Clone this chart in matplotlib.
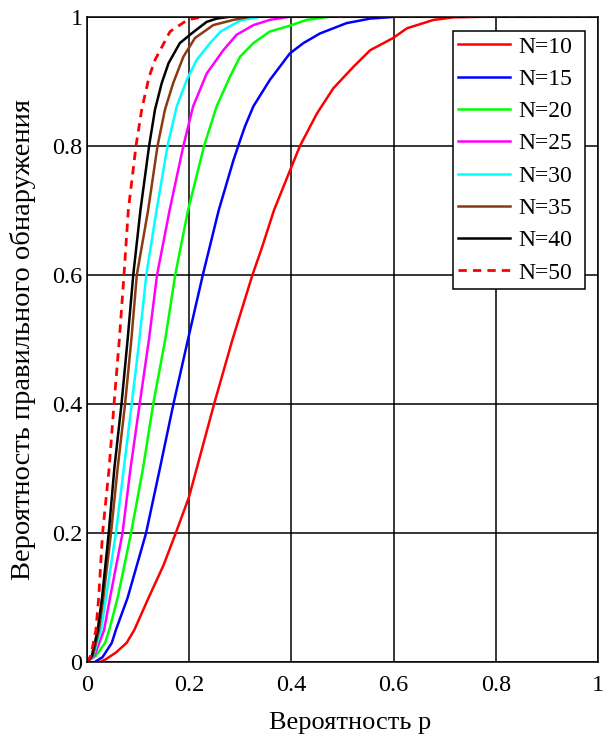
import numpy as np
import matplotlib.pyplot as plt

plt.rcParams['font.family'] = ['Liberation Serif', 'DejaVu Serif']

p_10 = [0.0, 0.025, 0.038, 0.057, 0.078, 0.093, 0.121, 0.15, 0.174, 0.2, 0.215, 0.249,
        0.285, 0.324, 0.342, 0.366, 0.399, 0.417, 0.45, 0.482, 0.521, 0.554, 0.599, 0.626,
        0.678, 0.717, 0.782, 1.0]
P_10 = [0.0, 0.0, 0.005, 0.015, 0.03, 0.05, 0.10, 0.15, 0.20, 0.256, 0.30, 0.40,
        0.50, 0.60, 0.641, 0.70, 0.765, 0.80, 0.85, 0.889, 0.922, 0.948, 0.967, 0.982,
        0.995, 0.999, 1.0, 1.0]

p_15 = [0.0, 0.015, 0.031, 0.049, 0.057, 0.080, 0.116, 0.143, 0.1695, 0.198, 0.227,
        0.258, 0.287, 0.298, 0.3094, 0.3257, 0.358, 0.397, 0.4234, 0.456, 0.508,
        0.554, 0.606, 1.0]
P_15 = [0.0, 0.0, 0.008, 0.03, 0.05, 0.10, 0.20, 0.30, 0.40, 0.50, 0.60,
        0.70, 0.778, 0.804, 0.83, 0.861, 0.902, 0.943, 0.959, 0.974, 0.990,
        0.997, 1.0, 1.0]

p_20 = [0.0, 0.018, 0.036, 0.044, 0.0606, 0.0866, 0.110, 0.130, 0.1535, 0.173, 0.198,
        0.2295, 0.254, 0.280, 0.2997, 0.3257, 0.358, 0.397, 0.430, 0.476, 1.0]
P_20 = [0.0, 0.01, 0.03, 0.05, 0.10, 0.20, 0.30, 0.40, 0.50, 0.60, 0.70,
        0.80, 0.861, 0.907, 0.938, 0.959, 0.977, 0.986, 0.995, 1.0, 1.0]

p_25 = [0.0, 0.015, 0.034, 0.0456, 0.070, 0.0856, 0.1035, 0.1217, 0.1375, 0.162, 0.189,
        0.208, 0.2346, 0.267, 0.293, 0.326, 0.358, 0.397, 1.0]
P_25 = [0.0, 0.01, 0.05, 0.10, 0.20, 0.30, 0.40, 0.50, 0.60, 0.70, 0.80,
        0.861, 0.912, 0.948, 0.972, 0.987, 0.995, 1.0, 1.0]

p_30 = [0.0, 0.013, 0.028, 0.0377, 0.057, 0.0725, 0.088, 0.103, 0.1165, 0.1365, 0.158,
        0.176, 0.1955, 0.215, 0.241, 0.262, 0.30, 0.34, 1.0]
P_30 = [0.0, 0.01, 0.05, 0.10, 0.20, 0.30, 0.40, 0.50, 0.60, 0.70, 0.80,
        0.861, 0.902, 0.933, 0.959, 0.977, 0.994, 1.0, 1.0]

p_35 = [0.0, 0.012, 0.024, 0.0325, 0.0475, 0.0604, 0.075, 0.0873, 0.098, 0.120, 0.1385,
        0.153, 0.169, 0.189, 0.2117, 0.2475, 0.2866, 0.32, 1.0]
P_35 = [0.0, 0.01, 0.05, 0.10, 0.20, 0.30, 0.40, 0.50, 0.60, 0.70, 0.80,
        0.856, 0.897, 0.938, 0.967, 0.987, 0.995, 1.0, 1.0]

p_40 = [0.0, 0.01, 0.0215, 0.030, 0.043, 0.054, 0.068, 0.080, 0.091, 0.105, 0.122,
        0.1335, 0.1466, 0.160, 0.182, 0.205, 0.2346, 0.254, 0.28, 1.0]
P_40 = [0.0, 0.01, 0.05, 0.10, 0.20, 0.30, 0.40, 0.50, 0.60, 0.70, 0.80,
        0.856, 0.897, 0.928, 0.959, 0.974, 0.992, 0.997, 1.0, 1.0]

p_50 = [0.0, 0.008, 0.018, 0.0234, 0.031, 0.0438, 0.0534, 0.0638, 0.0729, 0.0813, 0.0964,
        0.1075, 0.122, 0.1335, 0.163, 0.197, 0.228, 1.0]
P_50 = [0.0, 0.01, 0.05, 0.10, 0.20, 0.30, 0.40, 0.50, 0.60, 0.70, 0.80,
        0.856, 0.907, 0.933, 0.977, 0.995, 1.0, 1.0]

labels = ["N=10", "N=15", "N=20", "N=25", "N=30", "N=35", "N=40", "N=50"]
ticks = [0, 0.2, 0.4, 0.6, 0.8, 1]
tick_labels = ["0", "0.2", "0.4", "0.6", "0.8", "1"]

series = [(p_10, P_10), (p_15, P_15), (p_20, P_20), (p_25, P_25),
          (p_30, P_30), (p_35, P_35), (p_40, P_40), (p_50, P_50)]
colors = ["#ff0000", "#0000ff", "#00ff00", "#ff00ff",
          "#00ffff", "#8b3a0f", "#000000", "#ff0000"]

fig = plt.figure(figsize=(6.08, 7.38), dpi=100)
ax = fig.add_axes([0.1426, 0.1026, 0.8414, 0.8748])

for (x, y), c, lab in zip(series, colors, labels):
    if lab == "N=50":
        ax.plot(x, y, color=c, lw=2.0, linestyle=(0, (3, 2.2)), label=lab)
    else:
        ax.plot(x, y, color=c, lw=1.8, label=lab)

ax.set_xlim(0, 1)
ax.set_ylim(0, 1)
ax.set_xticks(ticks)
ax.set_xticklabels(tick_labels)
ax.set_yticks(ticks)
ax.set_yticklabels(tick_labels)
ax.tick_params(length=0, labelsize=17.5)
ax.tick_params(axis='x', pad=9)
ax.tick_params(axis='y', pad=3)
ax.grid(True, color='black', lw=1.1)
ax.set_axisbelow(True)
for s in ax.spines.values():
    s.set_linewidth(1.1)
    s.set_color('black')

ax.set_xlabel("Вероятность p", fontsize=19)
ax.set_ylabel("Вероятность правильного обнаружения", fontsize=20.5)
ax.xaxis.set_label_coords(0.515, -0.077)
ax.yaxis.set_label_coords(-0.099, 0.5)

# рамка легенды как в оригинале: x 453..585, y 31..292 px
leg = ax.legend(loc='upper left', bbox_to_anchor=(0.7166, 0.978, 0.2574, 0.0),
                mode='expand', borderaxespad=0,
                fontsize=17, fancybox=False, framealpha=1, edgecolor='black',
                handlelength=2.2, handletextpad=0.35, labelspacing=0.456,
                borderpad=0.22)
leg.get_frame().set_linewidth(1.1)

fig.savefig("out.png", dpi=100)
